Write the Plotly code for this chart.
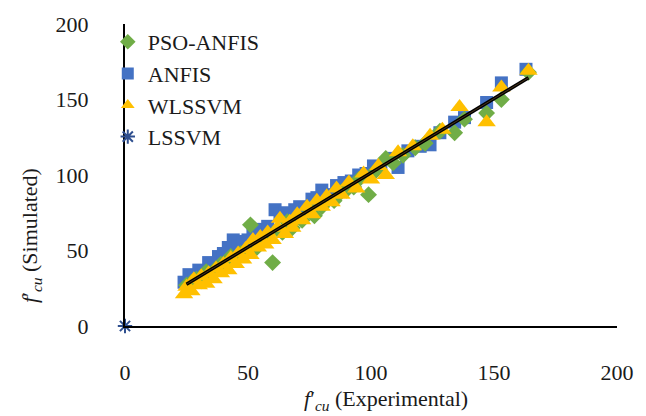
import numpy as np
import plotly.graph_objects as go

# PSO-ANFIS (green diamonds)
pso_x = [25,27,29,31,33,35,37,39,41,43,45,47,49,51,53,55,57,60,62,64,66,68,70,72,75,77,80,82,85,88,90,93,95,99,102,106,109,113,118,122,128,134,138,147,153,164]
pso_y = [27,29,31,30,36,34,38,41,40,46,44,48,50,67,51,57,58,42,64,62,69,65,72,70,77,73,79,84,83,89,90,92,97,87,103,111,108,113,118,121,129,128,137,141,150,168]

# ANFIS (blue squares)
anfis_x = [24,26,28,30,32,34,36,38,40,42,44,46,48,50,52,54,56,58,61,63,65,67,69,71,73,76,78,80,83,86,89,92,95,98,101,104,108,111,115,120,124,128,134,138,147,153,163]
anfis_y = [29,34,33,37,36,42,40,46,48,52,57,53,56,57,62,59,64,66,77,74,75,72,77,79,77,84,85,90,87,93,95,96,100,101,106,105,111,105,116,119,120,128,135,138,148,161,170]

# WLSSVM (yellow triangles)
wls_x = [24,25,27,28,30,31,33,34,36,37,39,40,42,43,45,46,48,49,51,52,54,55,57,58,60,62,63,65,67,68,70,72,74,76,78,80,82,84,86,88,91,94,97,100,103,106,111,117,124,129,136,147,153,164]
wls_y = [21,26,23,31,27,33,28,35,31,38,35,41,37,45,41,48,44,51,47,57,52,59,54,62,57,65,71,61,69,65,74,70,79,74,83,79,86,82,91,87,95,91,101,97,106,100,115,119,126,130,145,135,158,169]

# LSSVM (asterisk)
lssvm_x = [0]
lssvm_y = [0]

x_ticks = [0, 50, 100, 150, 200]
y_ticks = [0, 50, 100, 150, 200]

FONT = "Liberation Serif"
GREEN = "#70AD47"
BLUE = "#4472C4"
YELLOW = "#FFC000"
DARK = "#2F4F8F"

fig = go.Figure()

fig.add_trace(go.Scatter(x=anfis_x, y=anfis_y, mode="markers", name="ANFIS", legendrank=2,
                         marker=dict(symbol="square", size=13, color=BLUE)))
fig.add_trace(go.Scatter(x=pso_x, y=pso_y, mode="markers", name="PSO-ANFIS", legendrank=1,
                         marker=dict(symbol="diamond", size=13, color=GREEN)))
fig.add_trace(go.Scatter(x=wls_x, y=wls_y, mode="markers", name="WLSSVM", legendrank=3,
                         marker=dict(symbol="triangle-up", size=16, color=YELLOW)))
fig.add_trace(go.Scatter(x=lssvm_x, y=lssvm_y, mode="markers", name="LSSVM", legendrank=4,
                         cliponaxis=False,
                         marker=dict(symbol="asterisk-open", size=12, color=DARK,
                                     line=dict(width=2, color=DARK))))

# linear trendline fitted to all model results
all_x = np.array(pso_x + anfis_x + wls_x, dtype=float)
all_y = np.array(pso_y + anfis_y + wls_y, dtype=float)
k, b = np.polyfit(all_x, all_y, 1)
xx = np.array([all_x.min() + 1, all_x.max()])
fig.add_trace(go.Scatter(x=xx, y=k * xx + b, mode="lines", showlegend=False,
                         line=dict(color="black", width=3.5), hoverinfo="skip"))
fig.add_trace(go.Scatter(x=xx, y=k * xx + b, mode="lines", showlegend=False,
                         line=dict(color="#5a4020", width=0.8), hoverinfo="skip"))

fig.update_layout(
    width=646, height=416,
    margin=dict(l=125, r=26, t=24, b=90),
    paper_bgcolor="white", plot_bgcolor="white",
    font=dict(family=FONT, size=22, color="#1a1a1a"),
    legend=dict(x=-0.035, y=1.01, xanchor="left", yanchor="top",
                bgcolor="rgba(0,0,0,0)", font=dict(size=22, family=FONT),
                tracegroupgap=0, itemsizing="constant"),
    showlegend=True,
)
fig.update_xaxes(range=[0, 200], tickvals=x_ticks, showgrid=False, zeroline=False,
                 showline=True, linecolor="black", linewidth=2, ticks="",
                 ticklabelstandoff=26)
fig.update_yaxes(range=[0, 200], tickvals=y_ticks, showgrid=False, zeroline=False,
                 showline=True, linecolor="black", linewidth=2, ticks="",
                 ticklabelstandoff=30)

fig.add_annotation(xref="paper", yref="paper", x=0.53, y=-0.245, showarrow=False,
                   text="<i>f</i>′<sub><i>cu</i></sub> (Experimental)",
                   font=dict(family=FONT, size=22), xanchor="center", yanchor="middle")
fig.add_annotation(xref="paper", yref="paper", x=-0.19, y=0.30, showarrow=False,
                   text="<i>f</i>′<sub><i>cu</i></sub> (Simulated)", textangle=-90,
                   font=dict(family=FONT, size=22), xanchor="center", yanchor="middle")

fig.write_html("out.html")
